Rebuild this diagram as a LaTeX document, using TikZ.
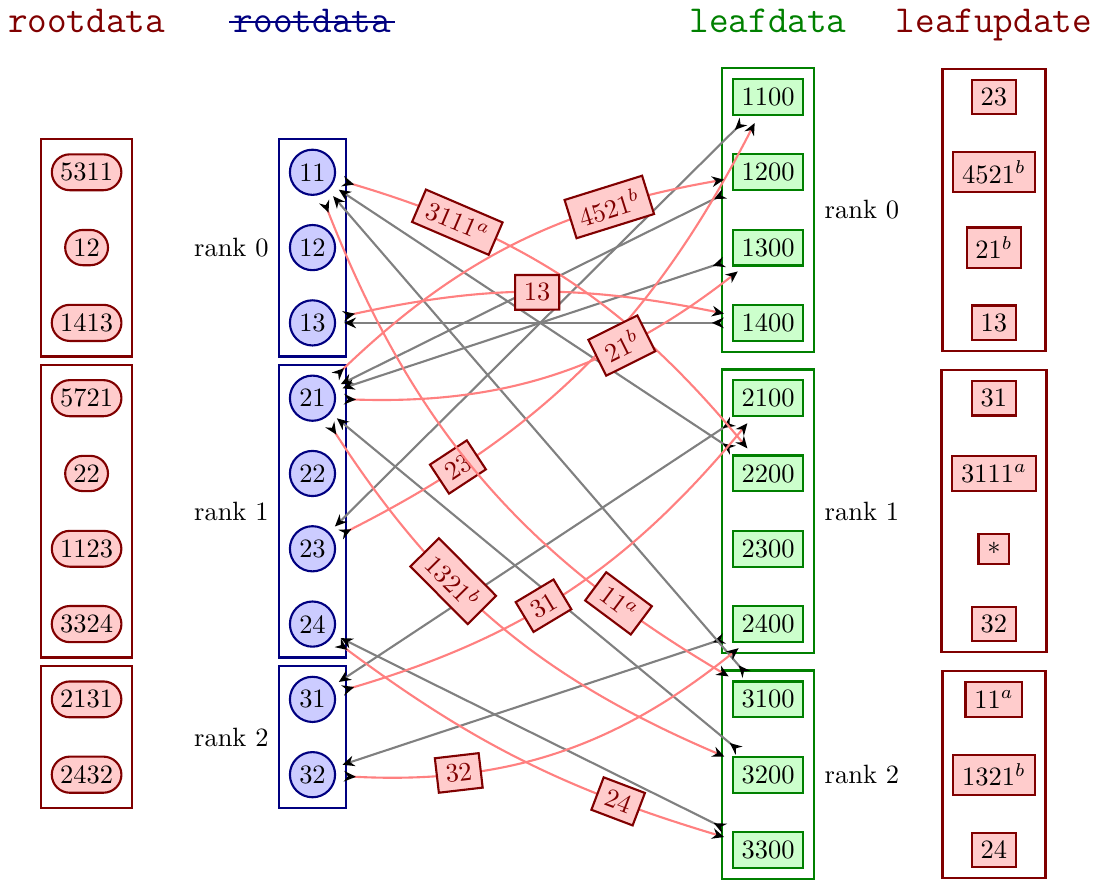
\documentclass[tikz,border=0pt]{standalone}
\usepackage{xcolor}
\usepackage{amsmath}
\usepackage{tikz}
\usetikzlibrary{positioning, shapes.misc, calc, fit, arrows.meta}

\begin{document}
\begin{tikzpicture}
			\tikzstyle{rootval}=[draw=red!50!black, thick, fill=red!20, rounded rectangle, minimum height=4.6mm, inner xsep=2.2pt]
			\tikzstyle{rootpt}=[draw=blue!50!black, thick, fill=blue!20, circle, minimum size=6mm, inner sep=1pt]
			\tikzstyle{leafpt}=[draw=green!50!black, thick, fill=green!20, rectangle]
			\tikzstyle{leafupd}=[draw=red!50!black, thick, fill=red!20, rectangle]
			\tikzstyle{rankframe}=[draw, line width=0.9pt, inner sep=1.3mm]
			\tikzstyle{head}=[anchor=base, font=\Large\ttfamily]
			\tikzstyle{sfedge}=[draw=gray, thick, arrows={Stealth[black,reversed,length=4.5pt,width=4pt]-Stealth[black,length=4.5pt,width=4pt]}, shorten <=3pt, shorten >=3pt]
			\tikzstyle{fetchedge}=[draw=red!50, thick, arrows={Stealth[black,reversed,length=4.5pt,width=4pt]-Stealth[black,length=4.5pt,width=4pt]}, shorten <=3pt, shorten >=3pt]
			\tikzstyle{upd}=[sloped, draw=red!50!black, thick, fill=red!20, text=red!50!black]
			
			\useasboundingbox (0,1.288) rectangle (14.595,-10.425);
			
			\node (hroot) at (1.15,0.86) [head, text=red!50!black] {rootdata};
			\node (hroot2) at (4.15,0.86) [head, text=blue!50!black, inner xsep=1.5pt] {rootdata};
			\draw [blue!50!black, semithick] ([yshift=3.8pt]hroot2.base west) -- ([yshift=3.8pt]hroot2.base east);
			\node (hleaf) at (10.2,0.86) [head, text=green!50!black] {leafdata};
			\node (hupd) at (13.2,0.86) [head, text=red!50!black] {leafupdate};
			
			% rootdata
			\node (d11) at (1.15,-1) [rootval] {5311};
			\node (d12) at (1.15,-2) [rootval] {12};
			\node (d13) at (1.15,-3) [rootval] {1413};
			\node (d21) at (1.15,-4) [rootval] {5721};
			\node (d22) at (1.15,-5) [rootval] {22};
			\node (d23) at (1.15,-6) [rootval] {1123};
			\node (d24) at (1.15,-7) [rootval] {3324};
			\node (d31) at (1.15,-8) [rootval] {2131};
			\node (d32) at (1.15,-9) [rootval] {2432};
			
			\node (dbox0) [rankframe, draw=red!50!black, inner ysep=1.9mm, fit=(d11)(d12)(d13)] {};
			\node (dbox1) [rankframe, draw=red!50!black, inner ysep=1.9mm, fit=(d21)(d22)(d23)(d24)] {};
			\node (dbox2) [rankframe, draw=red!50!black, inner ysep=1.9mm, fit=(d31)(d32)] {};
			
			% roots
			\node (r11) at (4.15,-1) [rootpt] {11};
			\node (r12) at (4.15,-2) [rootpt] {12};
			\node (r13) at (4.15,-3) [rootpt] {13};
			\node (r21) at (4.15,-4) [rootpt] {21};
			\node (r22) at (4.15,-5) [rootpt] {22};
			\node (r23) at (4.15,-6) [rootpt] {23};
			\node (r24) at (4.15,-7) [rootpt] {24};
			\node (r31) at (4.15,-8) [rootpt] {31};
			\node (r32) at (4.15,-9) [rootpt] {32};
			
			\node (rbox0) [rankframe, draw=blue!50!black, fit=(r11)(r12)(r13)] {};
			\node (rbox1) [rankframe, draw=blue!50!black, fit=(r21)(r22)(r23)(r24)] {};
			\node (rbox2) [rankframe, draw=blue!50!black, fit=(r31)(r32)] {};
			
			\node (rk0) [left] at (rbox0.west) {rank 0};
			\node (rk1) [left] at (rbox1.west) {rank 1};
			\node (rk2) [left] at (rbox2.west) {rank 2};
			
			% leafdata
			\node (l11) at (10.2,0) [leafpt] {1100};
			\node (l12) at (10.2,-1) [leafpt] {1200};
			\node (l13) at (10.2,-2) [leafpt] {1300};
			\node (l14) at (10.2,-3) [leafpt] {1400};
			\node (l21) at (10.2,-4) [leafpt] {2100};
			\node (l22) at (10.2,-5) [leafpt] {2200};
			\node (l23) at (10.2,-6) [leafpt] {2300};
			\node (l24) at (10.2,-7) [leafpt] {2400};
			\node (l31) at (10.2,-8) [leafpt] {3100};
			\node (l32) at (10.2,-9) [leafpt] {3200};
			\node (l33) at (10.2,-10) [leafpt] {3300};
			
			\node (lbox0) [rankframe, draw=green!50!black, fit=(l11)(l14)] {};
			\node (lbox1) [rankframe, draw=green!50!black, fit=(l21)(l24)] {};
			\node (lbox2) [rankframe, draw=green!50!black, fit=(l31)(l33)] {};
			
			\node (lk0) [right] at (lbox0.east) {rank 0};
			\node (lk1) [right] at (lbox1.east) {rank 1};
			\node (lk2) [right] at (lbox2.east) {rank 2};
			
			% leafupdate
			\node (u11) at (13.2,0) [leafupd] {$23$};
			\node (u12) at (13.2,-1) [leafupd] {$4521^b$};
			\node (u13) at (13.2,-2) [leafupd] {$21^b$};
			\node (u14) at (13.2,-3) [leafupd] {$13$};
			\node (u21) at (13.2,-4) [leafupd] {$31$};
			\node (u22) at (13.2,-5) [leafupd] {$3111^a$};
			\node (u23) at (13.2,-6) [leafupd] {$*$};
			\node (u24) at (13.2,-7) [leafupd] {$32$};
			\node (u31) at (13.2,-8) [leafupd] {$11^a$};
			\node (u32) at (13.2,-9) [leafupd] {$1321^b$};
			\node (u33) at (13.2,-10) [leafupd] {$24$};
			
			\node (ubox0) [rankframe, draw=red!50!black, fit=(u11)(u12)(u13)(u14)] {};
			\node (ubox1) [rankframe, draw=red!50!black, fit=(u21)(u22)(u23)(u24)] {};
			\node (ubox2) [rankframe, draw=red!50!black, fit=(u31)(u32)(u33)] {};
			
			% leaf -> root
			\draw [sfedge] (l11) -- (r23);
			\draw [sfedge] (l12) -- (r21);
			\draw [sfedge] (l13) -- (r21);
			\draw [sfedge] (l14) -- (r13);
			\draw [sfedge] (l21) -- (r31);
			\draw [sfedge] (l22) -- (r11);
			\draw [sfedge] (l24) -- (r32);
			\draw [sfedge] (l31) -- (r11);
			\draw [sfedge] (l32) -- (r21);
			\draw [sfedge] (l33) -- (r24);
			
			% root -> leaf, fetched values
			\draw [fetchedge] (r23) to[bend right=18] node[upd, pos=0.22] {$23$} (l11);
			\draw [fetchedge] (r11) to[bend left=17] node[upd, pos=0.24] {$3111^a$} (l22);
			\draw [fetchedge] (r21) to[bend left=17] node[upd, pos=0.74] {$4521^b$} (l12);
			\draw [fetchedge] (r13) to[bend left=12] node[upd, pos=0.51] {$13$} (l14);
			\draw [fetchedge] (r31) to[bend right=17] node[upd, pos=0.44] {$31$} (l21);
			\draw [fetchedge] (r11) to[bend right=19] node[upd, pos=0.8] {$11^a$} (l31);
			\draw [fetchedge] (r21) to[bend right=17] node[upd, pos=0.375] {$1321^b$} (l32);
			\draw [fetchedge] (r32) to[bend right=21] node[upd, pos=0.265] {$32$} (l24);
			\draw [fetchedge] (r24) to[bend right=10] node[upd, pos=0.75] {$24$} (l33);
			\draw [fetchedge] (r21) to[bend right=20] node[upd, pos=0.68] {$21^b$} (l13);
			
			%%\draw [sfedge] (l23) -- (r22);
\end{tikzpicture}
\end{document}
